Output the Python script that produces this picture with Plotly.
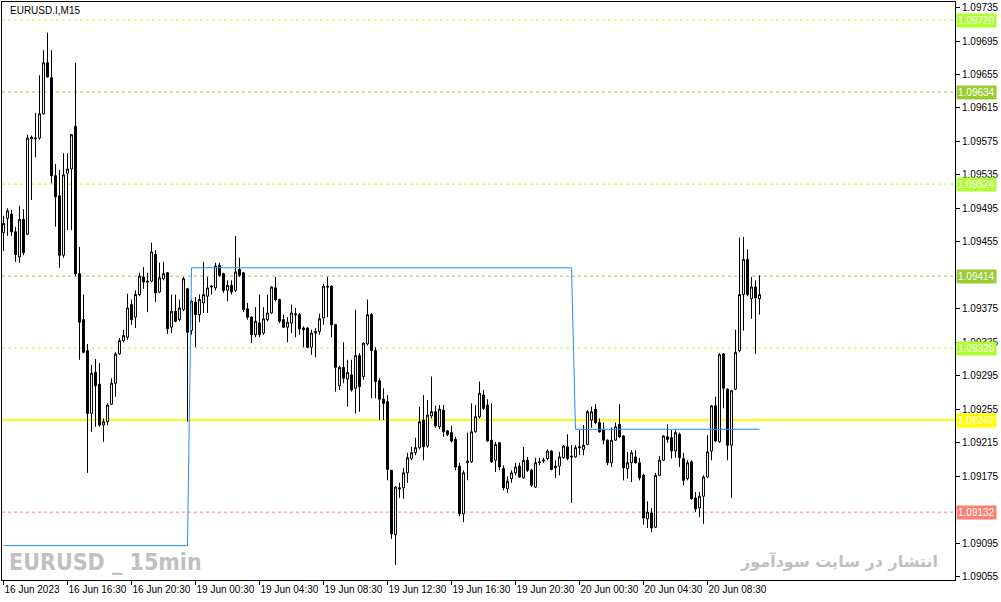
import plotly.graph_objects as go

# ---------------- data ----------------
bar_index = list(range(190))

open_ = [1.09466, 1.09483, 1.09488, 1.09467, 1.09437, 1.09482, 1.09464, 1.09578, 1.09578, 1.09579,
         1.09608, 1.09669, 1.09651, 1.09534, 1.09510, 1.09439, 1.09537, 1.09542, 1.09593, 1.09417,
         1.09362, 1.09325, 1.09250, 1.09299, 1.09285, 1.09236, 1.09240, 1.09261, 1.09286, 1.09321,
         1.09337, 1.09341, 1.09380, 1.09365, 1.09392, 1.09413, 1.09408, 1.09408, 1.09440, 1.09395,
         1.09411, 1.09418, 1.09353, 1.09372, 1.09362, 1.09374, 1.09399, 1.09349, 1.09383, 1.09368,
         1.09382, 1.09390, 1.09401, 1.09400, 1.09427, 1.09417, 1.09397, 1.09403, 1.09397, 1.09422,
         1.09418, 1.09375, 1.09365, 1.09344, 1.09358, 1.09346, 1.09362, 1.09370, 1.09400, 1.09386,
         1.09362, 1.09353, 1.09358, 1.09369, 1.09368, 1.09352, 1.09352, 1.09329, 1.09346, 1.09348,
         1.09364, 1.09402, 1.09402, 1.09356, 1.09283, 1.09305, 1.09291, 1.09296, 1.09280, 1.09319,
         1.09294, 1.09333, 1.09368, 1.09325, 1.09289, 1.09267, 1.09264, 1.09182, 1.09105, 1.09161,
         1.09161, 1.09179, 1.09196, 1.09203, 1.09209, 1.09242, 1.09211, 1.09247, 1.09252, 1.09234,
         1.09254, 1.09229, 1.09227, 1.09219, 1.09187, 1.09130, 1.09191, 1.09192, 1.09228, 1.09246,
         1.09272, 1.09260, 1.09218, 1.09194, 1.09215, 1.09184, 1.09160, 1.09172, 1.09179, 1.09187,
         1.09173, 1.09194, 1.09182, 1.09162, 1.09191, 1.09193, 1.09196, 1.09205, 1.09185, 1.09187,
         1.09197, 1.09210, 1.09199, 1.09198, 1.09209, 1.09207, 1.09213, 1.09242, 1.09255, 1.09239,
         1.09230, 1.09218, 1.09191, 1.09218, 1.09237, 1.09223, 1.09184, 1.09191, 1.09198, 1.09191,
         1.09176, 1.09124, 1.09131, 1.09114, 1.09176, 1.09194, 1.09222, 1.09221, 1.09205, 1.09225,
         1.09196, 1.09172, 1.09192, 1.09149, 1.09137, 1.09151, 1.09174, 1.09205, 1.09259, 1.09216,
         1.09321, 1.09279, 1.09212, 1.09279, 1.09325, 1.09392, 1.09434, 1.09387, 1.09401, 1.09387]

high = [1.09486, 1.09495, 1.09493, 1.09473, 1.09498, 1.09494, 1.09583, 1.09582, 1.09609, 1.09654,
        1.09684, 1.09705, 1.09684, 1.09548, 1.09541, 1.09561, 1.09561, 1.09584, 1.09669, 1.09449,
        1.09392, 1.09333, 1.09308, 1.09315, 1.09310, 1.09244, 1.09262, 1.09292, 1.09323, 1.09340,
        1.09350, 1.09393, 1.09386, 1.09397, 1.09418, 1.09425, 1.09418, 1.09454, 1.09445, 1.09430,
        1.09431, 1.09419, 1.09392, 1.09392, 1.09386, 1.09413, 1.09400, 1.09386, 1.09389, 1.09392,
        1.09431, 1.09413, 1.09403, 1.09430, 1.09430, 1.09418, 1.09409, 1.09409, 1.09462, 1.09436,
        1.09419, 1.09382, 1.09366, 1.09377, 1.09392, 1.09377, 1.09392, 1.09402, 1.09413, 1.09387,
        1.09368, 1.09365, 1.09380, 1.09376, 1.09370, 1.09354, 1.09353, 1.09350, 1.09352, 1.09369,
        1.09405, 1.09413, 1.09403, 1.09357, 1.09307, 1.09335, 1.09314, 1.09314, 1.09374, 1.09322,
        1.09335, 1.09386, 1.09370, 1.09329, 1.09292, 1.09280, 1.09272, 1.09182, 1.09163, 1.09167,
        1.09185, 1.09203, 1.09210, 1.09221, 1.09258, 1.09272, 1.09266, 1.09294, 1.09259, 1.09260,
        1.09260, 1.09230, 1.09235, 1.09222, 1.09191, 1.09182, 1.09227, 1.09262, 1.09260, 1.09288,
        1.09278, 1.09267, 1.09262, 1.09216, 1.09216, 1.09188, 1.09175, 1.09182, 1.09191, 1.09191,
        1.09210, 1.09198, 1.09184, 1.09197, 1.09197, 1.09197, 1.09207, 1.09206, 1.09194, 1.09204,
        1.09212, 1.09225, 1.09212, 1.09212, 1.09230, 1.09236, 1.09254, 1.09258, 1.09261, 1.09244,
        1.09239, 1.09219, 1.09233, 1.09239, 1.09261, 1.09224, 1.09204, 1.09206, 1.09206, 1.09197,
        1.09178, 1.09145, 1.09137, 1.09179, 1.09199, 1.09224, 1.09237, 1.09230, 1.09230, 1.09227,
        1.09203, 1.09194, 1.09194, 1.09156, 1.09156, 1.09176, 1.09224, 1.09260, 1.09270, 1.09322,
        1.09322, 1.09280, 1.09278, 1.09350, 1.09460, 1.09461, 1.09446, 1.09413, 1.09409, 1.09415]

low = [1.09444, 1.09462, 1.09462, 1.09431, 1.09430, 1.09439, 1.09463, 1.09505, 1.09556, 1.09577,
       1.09607, 1.09651, 1.09525, 1.09473, 1.09424, 1.09436, 1.09469, 1.09469, 1.09414, 1.09314,
       1.09322, 1.09179, 1.09228, 1.09234, 1.09234, 1.09216, 1.09236, 1.09260, 1.09270, 1.09320,
       1.09335, 1.09338, 1.09356, 1.09352, 1.09390, 1.09399, 1.09371, 1.09407, 1.09383, 1.09394,
       1.09409, 1.09345, 1.09346, 1.09359, 1.09360, 1.09372, 1.09240, 1.09344, 1.09329, 1.09359,
       1.09370, 1.09370, 1.09392, 1.09397, 1.09413, 1.09394, 1.09384, 1.09392, 1.09395, 1.09413,
       1.09371, 1.09362, 1.09334, 1.09341, 1.09341, 1.09344, 1.09360, 1.09369, 1.09384, 1.09358,
       1.09352, 1.09335, 1.09346, 1.09341, 1.09344, 1.09329, 1.09328, 1.09320, 1.09317, 1.09344,
       1.09356, 1.09365, 1.09341, 1.09276, 1.09278, 1.09286, 1.09258, 1.09276, 1.09250, 1.09252,
       1.09290, 1.09331, 1.09268, 1.09268, 1.09242, 1.09242, 1.09170, 1.09100, 1.09069, 1.09149,
       1.09148, 1.09167, 1.09194, 1.09200, 1.09207, 1.09194, 1.09209, 1.09244, 1.09233, 1.09231,
       1.09222, 1.09223, 1.09215, 1.09182, 1.09127, 1.09120, 1.09170, 1.09191, 1.09227, 1.09244,
       1.09254, 1.09216, 1.09191, 1.09180, 1.09182, 1.09158, 1.09155, 1.09167, 1.09176, 1.09173,
       1.09172, 1.09180, 1.09162, 1.09161, 1.09188, 1.09191, 1.09194, 1.09182, 1.09173, 1.09176,
       1.09196, 1.09194, 1.09143, 1.09197, 1.09200, 1.09200, 1.09212, 1.09233, 1.09237, 1.09227,
       1.09213, 1.09188, 1.09186, 1.09217, 1.09221, 1.09170, 1.09172, 1.09168, 1.09190, 1.09170,
       1.09117, 1.09113, 1.09108, 1.09113, 1.09175, 1.09193, 1.09215, 1.09196, 1.09197, 1.09186,
       1.09164, 1.09170, 1.09147, 1.09132, 1.09126, 1.09118, 1.09173, 1.09194, 1.09216, 1.09215,
       1.09256, 1.09194, 1.09149, 1.09278, 1.09323, 1.09349, 1.09390, 1.09363, 1.09321, 1.09368]

close = [1.09477, 1.09492, 1.09467, 1.09440, 1.09482, 1.09442, 1.09579, 1.09580, 1.09579, 1.09608,
         1.09669, 1.09652, 1.09534, 1.09509, 1.09439, 1.09535, 1.09542, 1.09583, 1.09417, 1.09359,
         1.09323, 1.09250, 1.09298, 1.09283, 1.09236, 1.09240, 1.09260, 1.09286, 1.09321, 1.09337,
         1.09343, 1.09376, 1.09362, 1.09392, 1.09414, 1.09407, 1.09407, 1.09443, 1.09394, 1.09412,
         1.09417, 1.09351, 1.09372, 1.09360, 1.09376, 1.09411, 1.09347, 1.09384, 1.09368, 1.09386,
         1.09392, 1.09400, 1.09402, 1.09426, 1.09415, 1.09397, 1.09403, 1.09395, 1.09419, 1.09415,
         1.09374, 1.09365, 1.09344, 1.09360, 1.09344, 1.09363, 1.09370, 1.09401, 1.09386, 1.09360,
         1.09353, 1.09359, 1.09370, 1.09368, 1.09351, 1.09350, 1.09329, 1.09346, 1.09348, 1.09363,
         1.09402, 1.09401, 1.09356, 1.09305, 1.09305, 1.09292, 1.09299, 1.09278, 1.09319, 1.09282,
         1.09334, 1.09368, 1.09325, 1.09288, 1.09267, 1.09262, 1.09183, 1.09106, 1.09162, 1.09160,
         1.09179, 1.09197, 1.09203, 1.09209, 1.09240, 1.09210, 1.09248, 1.09252, 1.09235, 1.09255,
         1.09228, 1.09225, 1.09217, 1.09186, 1.09130, 1.09179, 1.09193, 1.09228, 1.09246, 1.09274,
         1.09256, 1.09217, 1.09192, 1.09213, 1.09186, 1.09161, 1.09169, 1.09179, 1.09186, 1.09174,
         1.09194, 1.09182, 1.09164, 1.09191, 1.09192, 1.09194, 1.09205, 1.09183, 1.09187, 1.09198,
         1.09211, 1.09196, 1.09198, 1.09209, 1.09210, 1.09212, 1.09252, 1.09252, 1.09239, 1.09228,
         1.09218, 1.09191, 1.09218, 1.09234, 1.09222, 1.09185, 1.09191, 1.09203, 1.09191, 1.09173,
         1.09125, 1.09132, 1.09113, 1.09176, 1.09194, 1.09223, 1.09219, 1.09205, 1.09227, 1.09197,
         1.09170, 1.09191, 1.09148, 1.09136, 1.09151, 1.09174, 1.09204, 1.09259, 1.09217, 1.09320,
         1.09280, 1.09212, 1.09277, 1.09323, 1.09392, 1.09434, 1.09392, 1.09401, 1.09388, 1.09392]

# daily level step line (blue)
level_line_x = [0, 46, 47, 142, 143, 189]
level_line_y = [1.09092, 1.09092, 1.09424, 1.09424, 1.09231, 1.09231]

# horizontal price levels
level_prices = [1.09720, 1.09634, 1.09524, 1.09414, 1.09328, 1.09242, 1.09132]
level_colors = ["#ADFF2F", "#9ACD32", "#ADFF2F", "#9ACD32", "#ADFF2F", "#FFFF00", "#FA8072"]
level_dash = ["3px,3px", "3px,3px", "3px,3px", "3px,3px", "3px,3px", "solid", "3px,3px"]

# axis ticks
x_tick_idx = [0, 16, 32, 48, 64, 80, 96, 112, 128, 144, 160, 176]
x_tick_text = ["16 Jun 2023", "16 Jun 16:30", "16 Jun 20:30", "19 Jun 00:30", "19 Jun 04:30",
               "19 Jun 08:30", "19 Jun 12:30", "19 Jun 16:30", "19 Jun 20:30", "20 Jun 00:30",
               "20 Jun 04:30", "20 Jun 08:30"]
y_tick_vals = [1.09055, 1.09095, 1.09175, 1.09215, 1.09255, 1.09295, 1.09335, 1.09375,
               1.09455, 1.09495, 1.09535, 1.09575, 1.09615, 1.09655, 1.09695, 1.09735]

# ---------------- figure ----------------
fig = go.Figure()

fig.add_trace(go.Scatter(x=level_line_x, y=level_line_y, mode="lines",
                         line=dict(color="#1E90FF", width=1),
                         hoverinfo="skip", showlegend=False))

fig.add_trace(go.Candlestick(
    x=bar_index, open=open_, high=high, low=low, close=close,
    increasing=dict(line=dict(color="black", width=1), fillcolor="white"),
    decreasing=dict(line=dict(color="black", width=1), fillcolor="black"),
    whiskerwidth=0, showlegend=False, hoverinfo="skip"))

shapes = []
annotations = []
for p, c, d in zip(level_prices, level_colors, level_dash):
    shapes.append(dict(type="line", xref="paper", x0=0, x1=1, yref="y", y0=p, y1=p,
                       line=dict(color=c, width=2 if d == "solid" else 1, dash=d), layer="below"))
    annotations.append(dict(xref="paper", x=1, xanchor="left", xshift=1, yref="y", y=p,
                            yanchor="middle", text=f"{p:.5f}", showarrow=False,
                            font=dict(family="Liberation Sans", size=10, color="white"),
                            bgcolor=c, borderpad=1))

annotations.append(dict(xref="paper", yref="paper", x=0.006, y=0.986, xanchor="left",
                        yanchor="middle", text="EURUSD.I,M15", showarrow=False,
                        font=dict(family="Liberation Sans", size=10, color="black")))
annotations.append(dict(xref="paper", yref="paper", x=0.005, y=0.032, xanchor="left",
                        yanchor="middle", text="<b>EURUSD _ 15min</b>", showarrow=False,
                        font=dict(family="DejaVu Sans Condensed, Liberation Sans", size=23,
                                  color="#C0C0C0")))
annotations.append(dict(xref="paper", yref="paper", x=0.984, y=0.033, xanchor="right",
                        yanchor="middle", text="<b>انتشار در سایت سودآموز</b>", showarrow=False,
                        font=dict(family="DejaVu Sans", size=16, color="#C0C0C0")))

fig.update_layout(
    width=1001, height=602,
    margin=dict(l=2, r=46, t=2, b=22),
    paper_bgcolor="white", plot_bgcolor="white",
    shapes=shapes, annotations=annotations,
    showlegend=False,
    xaxis=dict(range=[-0.375, 237.875], rangeslider=dict(visible=False),
               tickvals=x_tick_idx, ticktext=x_tick_text, ticklabelposition="outside right",
               tickangle=0, ticks="outside", ticklen=4, tickcolor="black",
               showline=True, linecolor="black", linewidth=1, mirror=True,
               showgrid=False, zeroline=False,
               tickfont=dict(family="Liberation Sans", size=10, color="black")),
    yaxis=dict(range=[1.090509, 1.097416], side="right",
               tickvals=y_tick_vals, tickformat=".5f",
               ticks="outside", ticklen=4, tickcolor="black",
               showline=True, linecolor="black", linewidth=1, mirror=True,
               showgrid=False, zeroline=False,
               tickfont=dict(family="Liberation Sans", size=10, color="black")),
)

fig.write_html("out.html", config={"displayModeBar": False},
               post_script="document.body.style.margin='0';")
